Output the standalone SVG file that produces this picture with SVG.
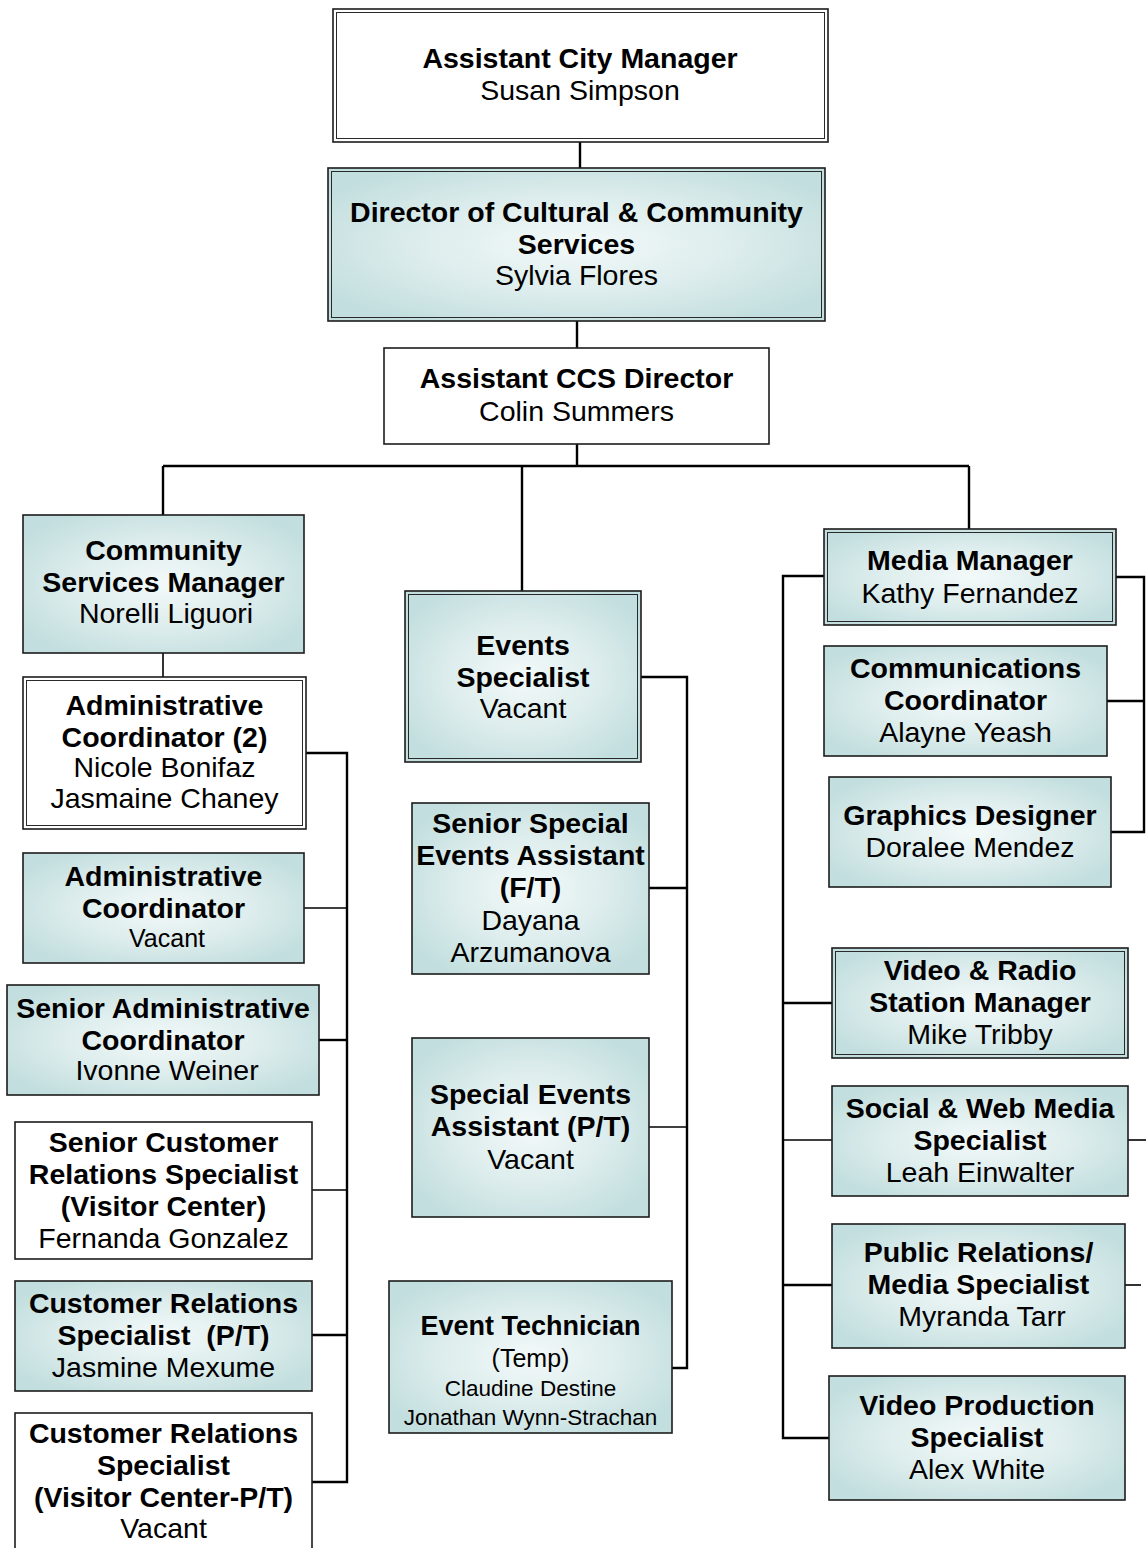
<svg xmlns="http://www.w3.org/2000/svg" width="1146" height="1548" viewBox="0 0 1146 1548">
  <style>
    .box { stroke: #1c1c1c; stroke-width: 1.6; }
    .shade { fill: url(#teal); }
    .plain { fill: #ffffff; }
    .inner { fill: none; stroke: #2a2a2a; stroke-width: 1; }
    .t { font-family: "Liberation Sans", Arial, sans-serif; font-size: 28.5px; fill: #000; text-anchor: middle; }
    .b { font-weight: bold; }
    .m { font-size: 25px; }
    .s { font-size: 22.5px; }
    .wire { fill: none; stroke: #000; stroke-width: 2.4; stroke-linejoin: miter; }
    .thin { fill: none; stroke: #000; stroke-width: 1.6; }
  </style>
  <defs>
    <radialGradient id="teal" cx="0.5" cy="0.5" r="0.6">
      <stop offset="0" stop-color="#f3f9f9"/>
      <stop offset="0.55" stop-color="#dcecec"/>
      <stop offset="1" stop-color="#c2dede"/>
    </radialGradient>
  </defs>

  <rect width="1146" height="1548" fill="#ffffff"/>

  <!-- connectors -->
  <g id="connectors">
    <path class="wire" d="M580 142 V168"/>
    <path class="wire" d="M577 321 V348"/>
    <path class="wire" d="M577 444 V466 M163 466 H969 M163 466 V515 M522 466 V591 M969 466 V529"/>
    <path class="thin" d="M163 653 V677"/>
    <!-- community services reports -->
    <path class="wire" d="M306 753 H347 V1482 H312"/>
    <path class="thin" d="M304 908 H347"/>
    <path class="wire" d="M319 1040 H347"/>
    <path class="thin" d="M312 1190 H347"/>
    <path class="wire" d="M312 1335 H347"/>
    <!-- events reports -->
    <path class="wire" d="M641 677 H687 V1368 H672"/>
    <path class="wire" d="M649 888 H687"/>
    <path class="thin" d="M649 1127 H687"/>
    <!-- media reports -->
    <path class="wire" d="M824 576 H783 V1438 H829"/>
    <path class="wire" d="M783 1003 H832"/>
    <path class="thin" d="M783 1140 H832"/>
    <path class="wire" d="M783 1285 H832"/>
    <path class="wire" d="M1116 577 H1144 V832 H1111"/>
    <path class="wire" d="M1107 701 H1144"/>
    <path class="thin" d="M1128 1140 H1146"/>
    <path class="thin" d="M1125 1285 H1141"/>
  </g>

  <!-- top of the chart -->
  <g id="asst-city-manager">
    <rect class="box plain" x="333" y="9" width="495" height="133"/>
    <rect class="inner" x="336.5" y="12.5" width="488" height="126"/>
    <text class="t b" x="580" y="68">Assistant City Manager</text>
    <text class="t" x="580" y="100">Susan Simpson</text>
  </g>

  <g id="director-ccs">
    <rect class="box shade" x="328" y="168" width="497" height="153"/>
    <rect class="inner" x="331.5" y="171.5" width="490" height="146"/>
    <text class="t b" x="576.5" y="222">Director of Cultural &amp; Community</text>
    <text class="t b" x="576.5" y="254">Services</text>
    <text class="t" x="576.5" y="285">Sylvia Flores</text>
  </g>

  <g id="asst-ccs-director">
    <rect class="box plain" x="384" y="348" width="385" height="96"/>
    <text class="t b" x="576.5" y="388">Assistant CCS Director</text>
    <text class="t" x="576.5" y="421">Colin Summers</text>
  </g>

  <!-- community services column -->
  <g id="community-services-manager">
    <rect class="box shade" x="23" y="515" width="281" height="138"/>
    <text class="t b" x="163.5" y="560">Community</text>
    <text class="t b" x="163.5" y="592">Services Manager</text>
    <text class="t" x="166" y="623">Norelli Liguori</text>
  </g>

  <g id="admin-coordinator-2">
    <rect class="box plain" x="23" y="677" width="283" height="152"/>
    <rect class="inner" x="26.5" y="680.5" width="276" height="145"/>
    <text class="t b" x="164.5" y="715">Administrative</text>
    <text class="t b" x="164.5" y="747">Coordinator (2)</text>
    <text class="t" x="164.5" y="777">Nicole Bonifaz</text>
    <text class="t" x="164.5" y="808">Jasmaine Chaney</text>
  </g>

  <g id="admin-coordinator">
    <rect class="box shade" x="23" y="853" width="281" height="110"/>
    <text class="t b" x="163.5" y="886">Administrative</text>
    <text class="t b" x="163.5" y="918">Coordinator</text>
    <text class="t m" x="167" y="947">Vacant</text>
  </g>

  <g id="senior-admin-coordinator">
    <rect class="box shade" x="7" y="985" width="312" height="110"/>
    <text class="t b" x="163" y="1018">Senior Administrative</text>
    <text class="t b" x="163" y="1050">Coordinator</text>
    <text class="t" x="167" y="1080">Ivonne Weiner</text>
  </g>

  <g id="senior-customer-relations">
    <rect class="box plain" x="15" y="1122" width="297" height="137"/>
    <text class="t b" x="163.5" y="1152">Senior Customer</text>
    <text class="t b" x="163.5" y="1184">Relations Specialist</text>
    <text class="t b" x="163.5" y="1216">(Visitor Center)</text>
    <text class="t" x="163.5" y="1248">Fernanda Gonzalez</text>
  </g>

  <g id="customer-relations-pt">
    <rect class="box shade" x="15" y="1281" width="297" height="110"/>
    <text class="t b" x="163.5" y="1313">Customer Relations</text>
    <text class="t b" x="163.5" y="1345">Specialist&#160; (P/T)</text>
    <text class="t" x="163.5" y="1377">Jasmine Mexume</text>
  </g>

  <g id="customer-relations-visitor-pt">
    <rect class="box plain" x="15" y="1413" width="297" height="150"/>
    <text class="t b" x="163.5" y="1443">Customer Relations</text>
    <text class="t b" x="163.5" y="1475">Specialist</text>
    <text class="t b" x="163.5" y="1507">(Visitor Center-P/T)</text>
    <text class="t" x="163.5" y="1538">Vacant</text>
  </g>

  <!-- events column -->
  <g id="events-specialist">
    <rect class="box shade" x="405" y="591" width="236" height="171"/>
    <rect class="inner" x="408.5" y="594.5" width="229" height="164"/>
    <text class="t b" x="523" y="655">Events</text>
    <text class="t b" x="523" y="687">Specialist</text>
    <text class="t" x="523" y="718">Vacant</text>
  </g>

  <g id="senior-special-events-assistant">
    <rect class="box shade" x="412" y="803" width="237" height="171"/>
    <text class="t b" x="530.5" y="833">Senior Special</text>
    <text class="t b" x="530.5" y="865">Events Assistant</text>
    <text class="t b" x="530.5" y="897">(F/T)</text>
    <text class="t" x="530.5" y="930">Dayana</text>
    <text class="t" x="530.5" y="962">Arzumanova</text>
  </g>

  <g id="special-events-assistant">
    <rect class="box shade" x="412" y="1038" width="237" height="179"/>
    <text class="t b" x="530.5" y="1104">Special Events</text>
    <text class="t b" x="530.5" y="1136">Assistant (P/T)</text>
    <text class="t" x="530.5" y="1169">Vacant</text>
  </g>

  <g id="event-technician">
    <rect class="box shade" x="389" y="1281" width="283" height="152"/>
    <text class="t b" x="530.5" y="1335" style="font-size:27px">Event Technician</text>
    <text class="t m" x="530.5" y="1367">(Temp)</text>
    <text class="t s" x="530.5" y="1396">Claudine Destine</text>
    <text class="t s" x="530.5" y="1425">Jonathan Wynn-Strachan</text>
  </g>

  <!-- media column -->
  <g id="media-manager">
    <rect class="box shade" x="824" y="529" width="292" height="96"/>
    <rect class="inner" x="827.5" y="532.5" width="285" height="89"/>
    <text class="t b" x="970" y="570">Media Manager</text>
    <text class="t" x="970" y="603">Kathy Fernandez</text>
  </g>

  <g id="communications-coordinator">
    <rect class="box shade" x="824" y="646" width="283" height="110"/>
    <text class="t b" x="965.5" y="678">Communications</text>
    <text class="t b" x="965.5" y="710">Coordinator</text>
    <text class="t" x="965.5" y="742">Alayne Yeash</text>
  </g>

  <g id="graphics-designer">
    <rect class="box shade" x="829" y="777" width="282" height="110"/>
    <text class="t b" x="970" y="825">Graphics Designer</text>
    <text class="t" x="970" y="857">Doralee Mendez</text>
  </g>

  <g id="video-radio-manager">
    <rect class="box shade" x="832" y="948" width="296" height="110"/>
    <rect class="inner" x="835.5" y="951.5" width="289" height="103"/>
    <text class="t b" x="980" y="980">Video &amp; Radio</text>
    <text class="t b" x="980" y="1012">Station Manager</text>
    <text class="t" x="980" y="1044">Mike Tribby</text>
  </g>

  <g id="social-web-media-specialist">
    <rect class="box shade" x="832" y="1086" width="296" height="110"/>
    <text class="t b" x="980" y="1118">Social &amp; Web Media</text>
    <text class="t b" x="980" y="1150">Specialist</text>
    <text class="t" x="980" y="1182">Leah Einwalter</text>
  </g>

  <g id="public-relations-specialist">
    <rect class="box shade" x="832" y="1224" width="293" height="124"/>
    <text class="t b" x="978.5" y="1262">Public Relations/</text>
    <text class="t b" x="978.5" y="1294">Media Specialist</text>
    <text class="t" x="982" y="1326">Myranda Tarr</text>
  </g>

  <g id="video-production-specialist">
    <rect class="box shade" x="829" y="1376" width="296" height="124"/>
    <text class="t b" x="977" y="1415">Video Production</text>
    <text class="t b" x="977" y="1447">Specialist</text>
    <text class="t" x="977" y="1479">Alex White</text>
  </g>
</svg>
